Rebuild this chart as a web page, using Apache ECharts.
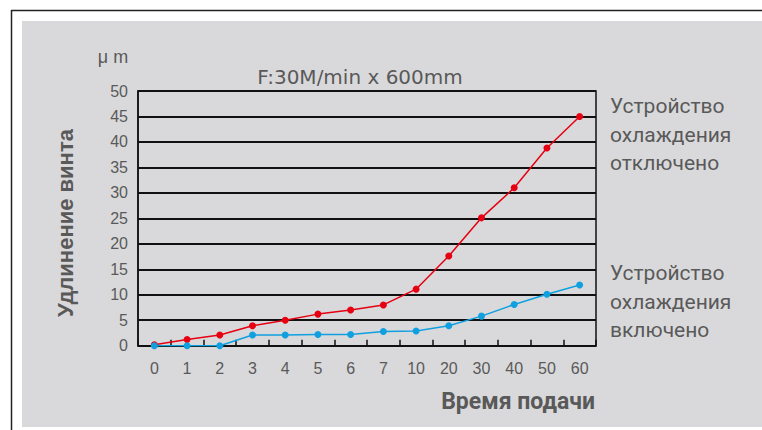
<!DOCTYPE html>
<html>
<head>
<meta charset="utf-8">
<script src="https://cdn.jsdelivr.net/npm/echarts@6/dist/echarts.min.js"></script>
<style>
html,body{margin:0;padding:0;background:#fff;}
#c{width:762px;height:430px;}
</style>
</head>
<body>
<div id="c"></div>
<script>
const categories = ['0','1','2','3','4','5','6','7','10','20','30','40','50','60'];
const coolingOff = [0.2, 1.2, 2.1, 3.9, 5.0, 6.2, 7.0, 8.0, 11.1, 17.6, 25.1, 31.0, 38.8, 45.0];
const coolingOn  = [0, 0, 0, 2.1, 2.1, 2.2, 2.2, 2.8, 2.9, 3.9, 5.8, 8.1, 10.1, 11.9];
const yTicks = [0, 50, 5];
const titleText = 'F:30M/min x 600mm';
const unitText = 'μ m';
const xName = 'Время подачи';
const yName = 'Удлинение винта';
const labelOff = ['Устройство', 'охлаждения', 'отключено'];
const labelOn = ['Устройство', 'охлаждения', 'включено'];

const chart = echarts.init(document.getElementById('c'), null, {renderer: 'svg'});
const txtColor = '#595959';
const numFont = 'Liberation Sans';
const ruFont = 'Roboto';
chart.setOption({
  backgroundColor: '#ffffff',
  animation: false,
  graphic: [
    {type: 'rect', z: -10, shape: {x: 22, y: 21, width: 740, height: 406}, style: {fill: '#d9d9db'}},
    {type: 'line', z: -9, shape: {x1: 11, y1: 10.5, x2: 762, y2: 10.5}, style: {stroke: '#222', lineWidth: 1.5}},
    {type: 'line', z: -9, shape: {x1: 11.5, y1: 10, x2: 11.5, y2: 430}, style: {stroke: '#222', lineWidth: 1.5}},
    {type: 'text', x: 113, y: 57, style: {text: unitText, fill: txtColor, font: '18px "' + numFont + '"', textAlign: 'center', textVerticalAlign: 'middle'}},
    {type: 'text', x: 360, y: 77, style: {text: titleText, fill: txtColor, font: '20px "DejaVu Sans"', textAlign: 'center', textVerticalAlign: 'middle'}},
    {type: 'text', x: 595, y: 401, style: {text: xName, fill: txtColor, font: 'bold 23px "' + ruFont + '"', textAlign: 'right', textVerticalAlign: 'middle'}},
    {type: 'text', x: 65, y: 223, rotation: Math.PI / 2, style: {text: yName, fill: txtColor, font: 'bold 22px "' + numFont + '"', textAlign: 'center', textVerticalAlign: 'middle'}},
    {type: 'text', x: 610, y: 134.5, style: {text: labelOff.join('\n'), fill: txtColor, font: '21px "' + ruFont + '"', lineHeight: 28.5, textVerticalAlign: 'middle'}},
    {type: 'text', x: 610, y: 301.5, style: {text: labelOn.join('\n'), fill: txtColor, font: '21px "' + ruFont + '"', lineHeight: 28.5, textVerticalAlign: 'middle'}}
  ],
  grid: {left: 138, right: 166, top: 91, bottom: 84.3, show: true, borderColor: '#111', borderWidth: 1.5, backgroundColor: 'transparent'},
  xAxis: {
    type: 'category',
    data: categories,
    boundaryGap: true,
    axisLine: {lineStyle: {color: '#111', width: 1.5}},
    axisTick: {show: true, inside: true, length: 6, lineStyle: {color: '#111', width: 1.5}},
    axisLabel: {color: txtColor, fontSize: 16, fontFamily: numFont, margin: 15}
  },
  yAxis: {
    type: 'value',
    min: yTicks[0], max: yTicks[1], interval: yTicks[2],
    axisLine: {show: true, lineStyle: {color: '#111', width: 1.5}},
    axisTick: {show: false},
    splitLine: {lineStyle: {color: '#111', width: 1.8}},
    axisLabel: {color: txtColor, fontSize: 16, fontFamily: numFont, margin: 10}
  },
  series: [
    {type: 'line', data: coolingOff, symbol: 'circle', symbolSize: 7, lineStyle: {color: '#e60012', width: 1.5}, itemStyle: {color: '#e60012'}, z: 3},
    {type: 'line', data: coolingOn, symbol: 'circle', symbolSize: 7, lineStyle: {color: '#10a0e0', width: 1.5}, itemStyle: {color: '#10a0e0'}, z: 4}
  ]
});
</script>
</body>
</html>
